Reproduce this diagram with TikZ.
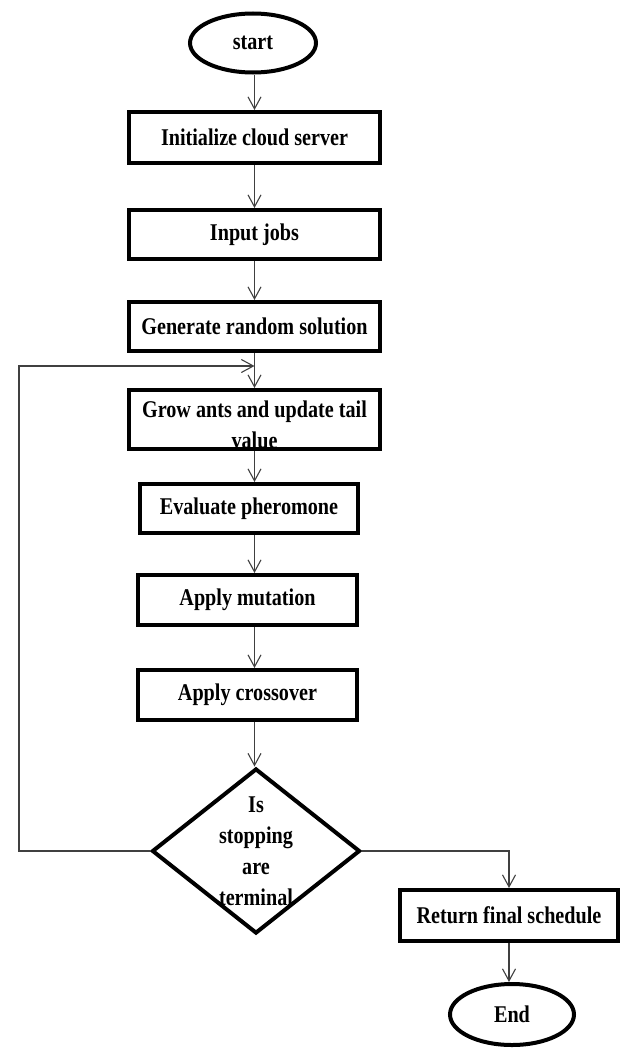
\documentclass[tikz,border=0pt]{standalone}
\usepackage{fontspec}
\setmainfont{Liberation Serif}[FakeStretch=0.84]
\usetikzlibrary{shapes.geometric,arrows.meta}

\tikzset{
    every node/.style={font=\bfseries\fontsize{24}{31}\selectfont, align=center, inner sep=0pt},
    blk/.style={draw, line width=4pt, rectangle},
    term/.style={draw, line width=4pt, ellipse},
    arr/.style={draw=black!75, line width=1.1pt, -{Straight Barb[length=12pt,width=13pt]}}
}

\begin{document}
\begin{tikzpicture}[x=1pt, y=-1pt]
    \useasboundingbox (0,0) rectangle (625,1049);

    % Main column.
    \node[term, minimum width=126pt, minimum height=59pt] (start) at (253,43) {start};
    \node[blk, minimum width=251pt, minimum height=51pt] (init) at (254.5,137.5) {Initialize cloud server};
    \node[blk, minimum width=251pt, minimum height=49pt] (jobs) at (254.5,234.5) {Input jobs};
    \node[blk, minimum width=251pt, minimum height=49pt] (gen) at (254.5,326.5) {Generate random solution};
    \node[blk, minimum width=251pt, minimum height=59pt] (grow) at (254.5,419.5) {};
    \node[yshift=-5pt] (growtext) at (grow) {Grow ants and update tail\\value};
    \node[blk, minimum width=218pt, minimum height=49pt] (eval) at (249,508.5) {Evaluate pheromone};
    \node[blk, minimum width=219pt, minimum height=50pt] (mut) at (247.5,600) {Apply mutation};
    \node[blk, minimum width=219pt, minimum height=50pt] (cross) at (247.5,695) {Apply crossover};

    % decision
    \node[draw, line width=4pt, diamond, minimum width=208pt, minimum height=165pt] (dec) at (256,851) {};
    \node (dectext) at (dec) {Is\\stopping\\are\\terminal};

    % exit
    \node[blk, minimum width=218pt, minimum height=51pt] (ret) at (509,915.5) {Return final schedule};
    \node[term, minimum width=124pt, minimum height=61pt] (stop) at (512,1014.5) {End};

    % arrows
    \foreach \a/\b in {start/init, init/jobs, jobs/gen, gen/grow, grow/eval, eval/mut, mut/cross, cross/dec}
    {
        \draw[arr] (\a.south -| gen.center) -- (\b.north -| gen.center);
    }

    % loop back
    \coordinate (loop) at (19,366);
    \coordinate (join) at (254.5,366);
    \draw[arr] (dec.west) -| (loop) -- (join);

    \draw[arr] (dec.east) -| (ret.north);
    \draw[arr] (ret.south) -- (ret.south |- stop.north);

\end{tikzpicture}
\end{document}
